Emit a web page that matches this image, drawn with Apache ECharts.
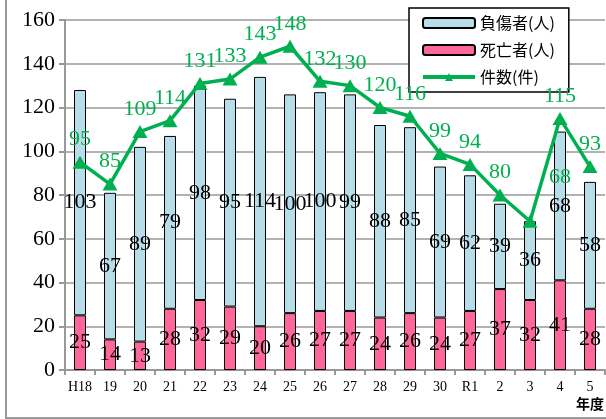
<!DOCTYPE html>
<html>
<head>
<meta charset="utf-8">
<script src="https://cdn.jsdelivr.net/npm/echarts@6/dist/echarts.min.js"></script>
<style>
  html, body { margin: 0; padding: 0; background: #fff; }
  #chart { width: 606px; height: 419px; }
</style>
</head>
<body>
<div id="chart"></div>
<script>
// 年度
var years = ['H18', '19', '20', '21', '22', '23', '24', '25', '26', '27', '28', '29', '30', 'R1', '2', '3', '4', '5']
// 死亡者(人)
var deaths = [25, 14, 13, 28, 32, 29, 20, 26, 27, 27, 24, 26, 24, 27, 37, 32, 41, 28]
// 負傷者(人)
var injured = [103, 67, 89, 79, 98, 95, 114, 100, 100, 99, 88, 85, 69, 62, 39, 36, 68, 58]
// 件数(件)
var cases = [95, 85, 109, 114, 131, 133, 143, 148, 132, 130, 120, 116, 99, 94, 80, 68, 115, 93]

var serif = 'Liberation Serif'
var cjk = 'Noto Sans CJK JP'

// the "3" label sits off to the right in the original
var caseData = cases.map(function (v, i) {
  if (years[i] === '3') {
    return { value: v, label: { offset: [30, -22] } }
  }
  return v
})

var myChart = echarts.init(document.getElementById('chart'))
myChart.setOption({
  animation: false,
  color: ['#ff6699', '#b7dde8', '#00b050'],
  grid: {
    left: 65,
    right: 1,
    top: 20,
    bottom: 49
  },
  legend: {
    data: [
      '負傷者(人)',
      '死亡者(人)',
      { name: '件数(件)', lineStyle: { width: 4 }, itemStyle: { color: '#00b050' } }
    ],
    orient: 'vertical',
    left: 409,
    top: 8,
    width: 156,
    itemWidth: 52,
    itemHeight: 10,
    itemGap: 11,
    padding: [7, 14, 7, 12],
    backgroundColor: '#fff',
    borderColor: '#000',
    borderWidth: 1.5,
    borderRadius: 0,
    textStyle: {
      fontFamily: cjk,
      fontSize: 16,
      color: '#000'
    }
  },
  graphic: [
    {
      type: 'rect',
      shape: { x: 6, y: -10, width: 620, height: 428 },
      style: { fill: 'none', stroke: '#9a9a9a', lineWidth: 2 },
      silent: true
    },
    {
      type: 'text',
      right: 2,
      top: 397,
      style: { text: '年度', fontFamily: cjk, fontWeight: 'bold', fontSize: 14, fill: '#000' }
    }
  ],
  xAxis: {
    type: 'category',
    data: years,
    axisLine: { lineStyle: { color: '#999', width: 2 } },
    axisTick: { show: true, length: 5, lineStyle: { color: '#999', width: 2 } },
    axisLabel: {
      fontFamily: serif,
      fontSize: 14,
      color: '#000',
      margin: 10,
      interval: 0
    }
  },
  yAxis: {
    type: 'value',
    min: 0,
    max: 160,
    interval: 20,
    axisLine: { show: true, lineStyle: { color: '#999', width: 2 } },
    axisTick: { show: true, length: 6, lineStyle: { color: '#999', width: 2 } },
    splitLine: { lineStyle: { color: '#999', width: 1.5 } },
    axisLabel: {
      fontFamily: serif,
      fontSize: 22,
      color: '#000',
      margin: 10
    }
  },
  series: [
    {
      name: '死亡者(人)',
      type: 'bar',
      stack: 'total',
      barWidth: 12,
      data: deaths,
      itemStyle: { color: '#ff6699', borderColor: '#000', borderWidth: 1 },
      label: {
        show: true,
        position: 'inside',
        fontFamily: serif,
        fontSize: 22,
        color: '#000'
      }
    },
    {
      name: '負傷者(人)',
      type: 'bar',
      stack: 'total',
      barWidth: 12,
      data: injured,
      itemStyle: { color: '#b7dde8', borderColor: '#000', borderWidth: 1 },
      label: {
        show: true,
        position: 'inside',
        fontFamily: serif,
        fontSize: 22,
        color: '#000'
      }
    },
    {
      name: '件数(件)',
      type: 'line',
      data: caseData,
      symbol: 'triangle',
      symbolSize: [15, 13],
      lineStyle: { color: '#00b050', width: 3.5 },
      itemStyle: { color: '#00b050' },
      z: 5,
      label: {
        show: true,
        position: 'top',
        distance: 5,
        fontFamily: serif,
        fontSize: 22,
        color: '#00b050'
      }
    }
  ]
}, true)
</script>
</body>
</html>
